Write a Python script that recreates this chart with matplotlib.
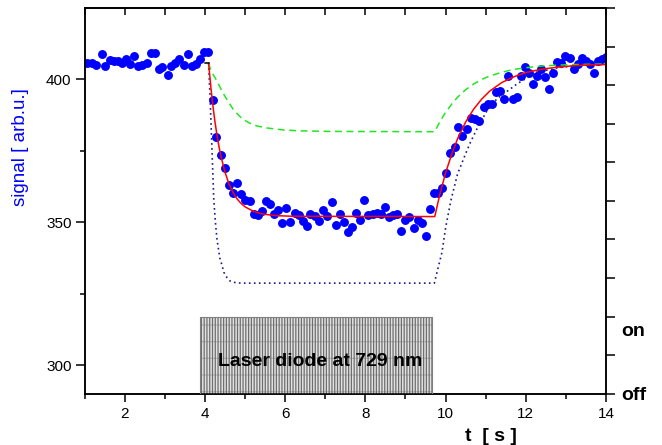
import matplotlib
matplotlib.use("Agg")
import matplotlib.pyplot as plt

plt.rcParams['font.family'] = ['Liberation Sans', 'DejaVu Sans']
plt.rcParams['hatch.linewidth'] = 0.9

# ---- measured signal (blue dots) ----
sig_t = [1.07, 1.19, 1.28, 1.42, 1.51, 1.62, 1.72, 1.82, 1.92, 2.03, 2.13, 2.23, 2.34, 2.44, 2.55,
         2.65, 2.76, 2.86, 2.94, 3.07, 3.16, 3.26, 3.36, 3.47, 3.57, 3.67, 3.78, 3.88, 3.98, 4.07,
         4.19, 4.28, 4.40, 4.49, 4.60, 4.70, 4.80, 4.90, 5.01, 5.12, 5.22, 5.32, 5.42, 5.52, 5.62,
         5.72, 5.82, 5.93, 6.03, 6.13, 6.24, 6.34, 6.44, 6.54,
         6.63, 6.74, 6.85, 6.95, 7.05, 7.16, 7.26, 7.36, 7.46, 7.57, 7.67, 7.77, 7.87, 7.97, 8.07,
         8.18, 8.28, 8.38, 8.49, 8.59, 8.69, 8.79, 8.89, 8.99, 9.10, 9.20, 9.30, 9.41, 9.51, 9.61,
         9.72, 9.82,
         9.91, 10.02, 10.12, 10.23, 10.32, 10.42, 10.53, 10.63, 10.74, 10.84, 10.95, 11.05, 11.15,
         11.26, 11.36, 11.46, 11.56, 11.67, 11.77, 11.87, 11.97, 12.07, 12.17, 12.27, 12.38, 12.48,
         12.58, 12.68, 12.79, 12.89, 12.99, 13.09, 13.19, 13.30, 13.40, 13.51, 13.61, 13.71, 13.81,
         13.91, 14.00]
sig_v = [405.7, 405.6, 405.2, 408.8, 404.7, 406.7, 406.5, 406.5, 405.8, 407.1, 405.3, 408.1, 404.7, 405.0, 405.6,
         409.1, 409.3, 403.8, 404.2, 401.5, 404.7, 405.8, 407.2, 404.9, 408.8, 404.8, 405.3, 407.0, 409.5, 409.5,
         392.8, 379.7, 373.6, 369.0, 362.9, 360.4, 363.9, 359.9, 357.8, 357.6, 352.9, 352.7, 354.1, 357.3, 356.3,
         352.9, 354.3, 349.9, 355.0, 350.1, 353.1, 352.7, 350.5, 348.6,
         352.8, 352.2, 350.6, 354.3, 352.2, 357.1, 349.1, 352.9, 350.1, 346.7, 348.2, 353.1, 350.7, 357.8, 352.4,
         352.8, 353.1, 353.0, 355.2, 352.0, 352.5, 353.0, 347.1, 350.8, 352.0, 347.9, 350.8, 349.6, 345.3, 354.5,
         360.1, 360.3,
         362.1, 367.1, 374.1, 376.2, 383.2, 380.2, 382.5, 386.5, 386.2, 385.3, 390.4, 391.4, 391.4,
         395.6, 395.8, 393.2, 401.2, 393.2, 393.7, 401.2, 404.2, 402.1, 398.4, 401.2, 403.7, 400.7,
         396.7, 402.1, 406.0, 405.6, 408.1, 407.4, 403.7, 405.3, 407.4, 406.5, 405.3, 402.3, 406.3,
         407.2, 407.9]

# ---- fit curve (red, solid) ----
fit_t = [4.09, 4.15, 4.20, 4.25, 4.30, 4.35, 4.40, 4.50, 4.60, 4.70, 4.80, 4.90, 5.00, 5.20, 5.40,
         5.60, 5.80, 6.20, 9.73, 9.85, 10.0, 10.15, 10.3, 10.5, 10.7, 10.9, 11.1, 11.4, 11.7, 12.0,
         12.4, 12.8, 13.2, 13.6, 14.0]
fit_v = [405.7, 396.8, 390.5, 385.1, 380.4, 376.4, 373.0, 367.5, 363.4, 360.4, 358.2, 356.6, 355.4, 353.9, 353.0,
         352.6, 352.3, 352.1, 352.0, 359.4, 367.3, 373.7, 379.3, 385.1, 389.6, 393.1, 395.9, 398.9, 400.9, 402.4,
         403.6, 404.3, 404.8, 405.1, 405.2]

# ---- green dashed curve ----
green_t = [4.09, 4.13, 4.20, 4.30, 4.42, 4.55, 4.71, 4.88, 5.00, 5.13, 5.30, 5.55, 5.97, 6.38, 7.10, 9.73,
           9.85, 10.0, 10.15, 10.3, 10.5, 10.7, 10.9, 11.1, 11.4, 11.7, 12.0, 12.4, 12.8, 13.2, 13.6, 14.0]
green_v = [405.7, 403.8, 401.8, 399.4, 396.0, 392.9, 389.4, 386.9, 385.6, 384.6, 383.7, 383.0, 382.3, 382.0, 381.8, 381.7,
           385.0, 388.5, 391.3, 393.8, 396.4, 398.4, 400.0, 401.2, 402.5, 403.5, 404.1, 404.7, 405.0, 405.2, 405.3, 405.4]

# ---- navy dotted curve ----
navy_t = [4.09, 4.13, 4.175, 4.22, 4.26, 4.30, 4.37, 4.42, 4.47, 4.55, 4.63, 4.75, 4.90, 9.72,
          9.80, 9.91, 10.0, 10.13, 10.3, 10.5, 10.62, 10.8, 11.05, 11.3, 11.5, 11.8, 12.26, 12.84, 13.43, 14.0]
navy_v = [405.7, 392.7, 375.3, 357.8, 350.0, 344.0, 337.5, 335.2, 332.5, 330.6, 329.4, 328.9, 328.7, 328.7,
          333.3, 339.5, 348.0, 357.5, 367.0, 374.0, 378.0, 383.2, 389.5, 393.5, 395.5, 398.6, 402.5, 404.2, 405.0, 405.3]

# short black start segment
start_t = [3.99, 4.09]
start_v = [405.7, 405.7]

# laser on/off window
laser_t = [3.87, 9.67]
laser_on = 1.0
laser_label = "Laser diode at 729 nm"

x_major = [2, 4, 6, 8, 10, 12, 14]
x_minor = [1, 3, 5, 7, 9, 11, 13]
x_top = [1, 2, 3, 4, 5, 6, 7, 8, 9, 10, 11, 12, 13, 14]
y_major = [300, 350, 400]
y_minor = [325, 375]
r_ticks = [0, 0.5, 1, 1.5, 2, 2.5, 3, 3.5, 4, 4.5, 5]

fig = plt.figure(figsize=(6.62, 4.45), dpi=100)
ax = fig.add_axes([0.1279, 0.1153, 0.7875, 0.8667])
ax.set_xlim(1, 14)
ax.set_ylim(290, 425)

ax.plot(sig_t, sig_v, 'o', color='#0000ff', ms=5.4, mec='#0000ff', zorder=2)
ax.plot(navy_t, navy_v, color='#1a1a8c', lw=1.2, linestyle=(0, (1, 2)), zorder=3)
ax.plot(green_t, green_v, color='#22e622', lw=1.1, linestyle=(0, (4.5, 3)), zorder=3)
ax.plot(fit_t, fit_v, color='#ff0000', lw=1.1, zorder=4)
ax.plot(start_t, start_v, color='black', lw=1.1, zorder=4)

for s in ax.spines.values():
    s.set_linewidth(1.1)

ax.set_xticks(x_major)
ax.set_xticks(x_minor, minor=True)
ax.set_yticks(y_major)
ax.set_yticks(y_minor, minor=True)
ax.tick_params(axis='x', which='major', direction='out', length=5.8, width=1.1, labelsize=11, pad=4)
ax.tick_params(axis='x', which='minor', direction='out', length=3.4, width=1.1)
ax.tick_params(axis='y', which='major', direction='out', length=6.5, width=1.1, labelsize=11, pad=3)
ax.tick_params(axis='y', which='minor', direction='out', length=3.6, width=1.1)
ax.tick_params(right=False, top=False, which='both')

sec = ax.secondary_xaxis('top')
sec.set_xticks(x_top)
sec.set_xticklabels([])
sec.tick_params(direction='in', length=4.8, width=1.1)
sec.spines['top'].set_linewidth(1.1)

ax.text(-0.123, 0.64, 'signal [ arb.u.]', transform=ax.transAxes, rotation=90,
        ha='center', va='center', color='#0000ff', fontsize=13.5)
ax.text(11.13, -0.11, 't  [ s ]', transform=ax.get_xaxis_transform(),
        ha='center', va='center', fontsize=14, fontweight='bold')

ax2 = ax.twinx()
ax2.set_ylim(0, 5)
ax2.set_yticks(r_ticks)
ax2.set_yticklabels([])
ax2.tick_params(axis='y', direction='out', length=6.5, width=1.1)
for s in ax2.spines.values():
    s.set_linewidth(1.1)

ax2.fill_between(laser_t, 0, laser_on, facecolor='#e2e2e2', edgecolor='#b8b8b8',
                 hatch='-', linewidth=0, zorder=1)
ax2.fill_between(laser_t, 0, laser_on, facecolor='none', edgecolor='#6e6e6e',
                 hatch='||||||', linewidth=0, zorder=2)
ax2.plot([laser_t[0], laser_t[0], laser_t[1], laser_t[1]], [0, laser_on, laser_on, 0],
         color='#808080', lw=0.8, zorder=3)
ax2.text(6.88, 0.42, laser_label, ha='center', va='center', fontsize=14,
         fontweight='bold', zorder=5)

ax2.text(1.030, 0.81, 'on', transform=ax2.get_yaxis_transform(), ha='left', va='center',
         fontsize=14, fontweight='bold')
ax2.text(1.030, -0.02, 'off', transform=ax2.get_yaxis_transform(), ha='left', va='center',
         fontsize=14, fontweight='bold')

fig.savefig('out.png', dpi=100)
